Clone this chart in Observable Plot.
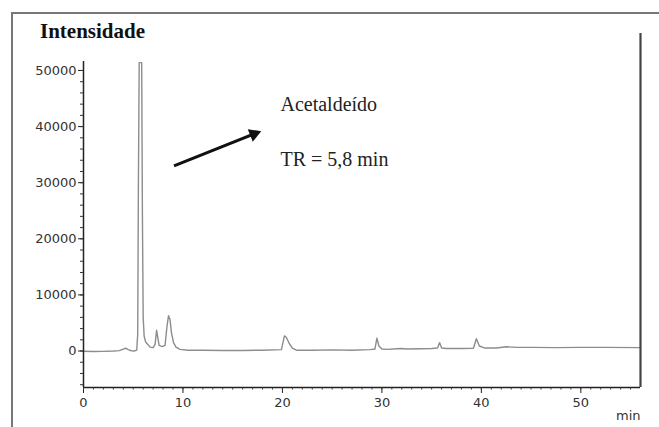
<!DOCTYPE html>
<html>
<head>
<meta charset="utf-8">
<script src="https://cdn.jsdelivr.net/npm/d3@7"></script>
<script src="https://cdn.jsdelivr.net/npm/@observablehq/plot@0.6"></script>
<style>
  html, body { margin: 0; padding: 0; background: #fff; overflow: hidden; }
  #wrap { position: relative; width: 659px; height: 427px; overflow: hidden; }
  #frame { position: absolute; left: 11px; top: 12px; width: 720px; height: 520px;
           border: 2px solid #777; box-sizing: border-box; }
  #title { position: absolute; left: 40px; top: 19px; font-family: "Liberation Serif", "Times New Roman", serif;
           font-weight: bold; font-size: 21px; color: #111; }
  #chart { position: absolute; left: 0; top: 0; }
</style>
</head>
<body>
<div id="wrap">
  <div id="frame"></div>
  <div id="title">Intensidade</div>
  <div id="chart"></div>
</div>
<script>
// Retention time (min)
const times = [
  0, 1, 2, 3, 3.6, 4.0, 4.25, 4.5, 4.8, 5.1, 5.35, 5.45, 5.52, 5.6, 5.75, 5.85, 5.92, 6.0, 6.1, 6.25, 6.45,
  6.7, 7.0, 7.2, 7.35, 7.45, 7.6, 7.9, 8.2, 8.4, 8.55, 8.7, 8.85, 9.05, 9.3, 9.7, 10.5, 12, 14, 16, 18,
  19.9, 20.2, 20.4, 20.7, 21.0, 21.4, 23, 25, 27, 28.8, 29.3, 29.5, 29.7, 30.0, 30.5, 31.5, 32, 32.5, 34,
  35.0, 35.6, 35.8, 36.0, 36.5, 38, 39.2, 39.5, 39.8, 40.3, 41.5, 42.5, 43.5, 45, 47.5, 50, 52.5, 55.9
];
// Intensity
const intensity = [
  -50, -80, -60, 0, 80, 350, 500, 250, 50, 0, 150, 3000, 30000, 51400, 51400, 51400, 25000, 6000, 2600, 1600, 1200,
  700, 600, 1200, 3700, 2600, 1000, 800, 1000, 4500, 6300, 5600, 3200, 1500, 700, 300, 150, 150, 100, 100, 150,
  250, 2700, 2400, 1300, 500, 150, 150, 200, 150, 250, 350, 2300, 900, 350, 300, 400, 450, 350, 400,
  450, 550, 1500, 550, 450, 450, 500, 2200, 900, 550, 550, 750, 650, 650, 600, 650, 650, 600
];
const yTicks = [0, 10000, 20000, 30000, 40000, 50000];
const yMinorTicks = d3.range(-6000, 51001, 2000);
const xTicks = [0, 10, 20, 30, 40, 50];
const xMinorTicks = d3.range(0, 56, 1);
const annotationLabels = ["Acetaldeído", "TR = 5,8 min"];
const annotationX = [19.8, 19.8];
const annotationY = [44000, 34200];
const arrowFrom = {x: 9.1, y: 33000};
const arrowTo = {x: 17.6, y: 39000};

const series = times.map((t, i) => ({t, v: intensity[i]}));
const labels = annotationLabels.map((s, i) => ({s, x: annotationX[i], y: annotationY[i]}));

const xMin = 0, xMax = 56.0, yMin = -6500, yMax = 51600;

// arrow direction in screen pixels (for the filled head)
const xs = d3.scaleLinear([xMin, xMax], [83, 640]);
const ys = d3.scaleLinear([yMin, yMax], [387, 61]);
const ddx = xs(arrowTo.x) - xs(arrowFrom.x), ddy = ys(arrowTo.y) - ys(arrowFrom.y);
const len = Math.hypot(ddx, ddy);
const ux = ddx / len, uy = ddy / len;
const headAngle = Math.atan2(uy, ux) * 180 / Math.PI + 90;

const chart = Plot.plot({
  width: 659,
  height: 427,
  marginLeft: 83,
  marginRight: 19,
  marginTop: 61,
  marginBottom: 40,
  x: {domain: [xMin, xMax]},
  y: {domain: [yMin, yMax]},
  style: {fontFamily: "'DejaVu Sans', sans-serif", fontSize: "13px", color: "#333", background: "transparent"},
  marks: [
    Plot.line(series, {x: "t", y: "v", stroke: "#8d8d8d", strokeWidth: 1.4, curve: "linear"}),
    Plot.ruleX([xMin], {y1: yMin, y2: yMax, stroke: "#222", strokeWidth: 1.5}),
    Plot.ruleY([yMin], {x1: xMin, x2: xMax, stroke: "#222", strokeWidth: 1.5}),
    Plot.ruleX([xMax], {y1: yMin, y2: 56600, stroke: "#444", strokeWidth: 2.2}),
    Plot.axisY(yTicks, {tickSize: 5, tickPadding: 2, tickFormat: d3.format("d"), label: null, stroke: "#222", fill: "#333", fontSize: 13}),
    Plot.axisY(yMinorTicks, {tickSize: 3, tickFormat: () => "", label: null, stroke: "#333"}),
    Plot.axisX(xTicks, {tickSize: 6, tickPadding: 4, tickFormat: d3.format("d"), label: null, stroke: "#222", fill: "#333", fontSize: 13}),
    Plot.axisX(xMinorTicks, {tickSize: 2.5, tickFormat: () => "", label: null, stroke: "#333"}),
    Plot.text(["min"], {frameAnchor: "bottom-right", dy: 32, textAnchor: "end", fontSize: 13, fill: "#333"}),
    Plot.text(labels, {x: "x", y: "y", text: "s", textAnchor: "start", fontFamily: "'Liberation Serif', 'Times New Roman', serif", fontSize: 20, fill: "#222"}),
    Plot.link([{x1: arrowFrom.x, y1: arrowFrom.y, x2: arrowTo.x, y2: arrowTo.y}], {x1: "x1", y1: "y1", x2: "x2", y2: "y2", stroke: "#111", strokeWidth: 3}),
    Plot.dot([arrowTo], {x: "x", y: "y", symbol: "triangle2", r: 6.5, fill: "#111", stroke: "none", rotate: headAngle, dx: -ux * 5, dy: -uy * 5})
  ]
});
document.getElementById("chart").appendChild(chart);
</script>
</body>
</html>
